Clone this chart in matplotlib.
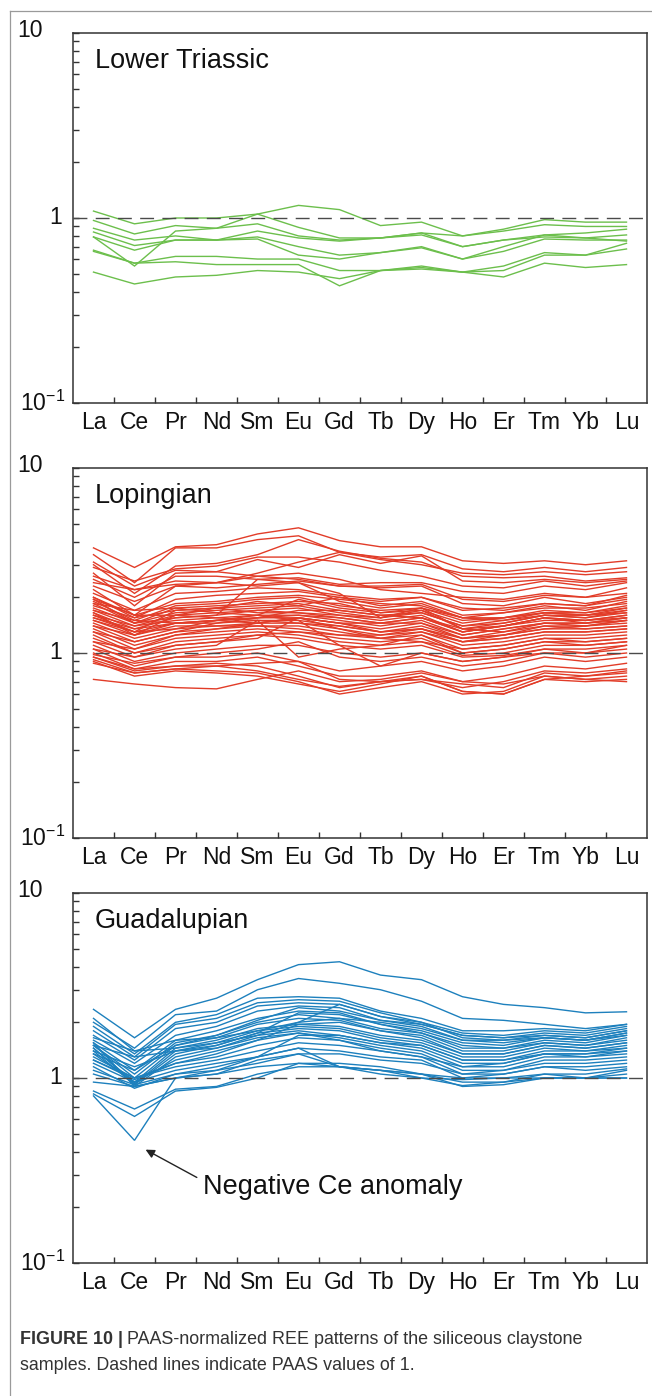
import matplotlib
matplotlib.use("Agg")
import matplotlib.pyplot as plt
from matplotlib.ticker import FixedLocator, NullFormatter
from matplotlib.lines import Line2D

plt.rcParams["font.family"] = ["Liberation Sans", "DejaVu Sans"]
plt.rcParams["mathtext.fontset"] = "custom"
plt.rcParams["mathtext.rm"] = "Liberation Sans"

elements = ["La", "Ce", "Pr", "Nd", "Sm", "Eu", "Gd", "Tb", "Dy", "Ho", "Er", "Tm", "Yb", "Lu"]

# PAAS-normalized values, one row per sample
lower_triassic = [
    [1.09, 0.93, 1.00, 1.00, 1.05, 0.89, 0.78, 0.78, 0.83, 0.80, 0.87, 0.98, 0.95, 0.95],
    [0.79, 0.55, 0.85, 0.88, 1.05, 1.17, 1.11, 0.91, 0.95, 0.80, 0.85, 0.92, 0.90, 0.90],
    [0.97, 0.82, 0.91, 0.88, 0.93, 0.80, 0.76, 0.78, 0.81, 0.70, 0.76, 0.81, 0.83, 0.87],
    [0.88, 0.76, 0.80, 0.76, 0.85, 0.78, 0.75, 0.78, 0.83, 0.70, 0.76, 0.79, 0.78, 0.81],
    [0.84, 0.71, 0.76, 0.76, 0.79, 0.70, 0.63, 0.65, 0.70, 0.60, 0.66, 0.77, 0.76, 0.76],
    [0.79, 0.67, 0.76, 0.76, 0.77, 0.63, 0.60, 0.65, 0.69, 0.60, 0.70, 0.81, 0.78, 0.75],
    [0.67, 0.57, 0.62, 0.62, 0.60, 0.60, 0.52, 0.52, 0.55, 0.51, 0.55, 0.65, 0.63, 0.68],
    [0.66, 0.57, 0.58, 0.56, 0.56, 0.56, 0.43, 0.52, 0.53, 0.51, 0.52, 0.63, 0.63, 0.73],
    [0.51, 0.44, 0.48, 0.49, 0.52, 0.51, 0.47, 0.52, 0.54, 0.51, 0.48, 0.57, 0.54, 0.56],
]

lopingian = [
    [3.70, 2.90, 3.75, 3.85, 4.40, 4.75, 4.05, 3.75, 3.75, 3.15, 3.05, 3.15, 3.00, 3.15],
    [3.40, 2.40, 3.70, 3.70, 4.10, 4.30, 3.50, 3.30, 3.40, 2.85, 2.75, 2.90, 2.75, 2.90],
    [3.00, 2.10, 2.95, 3.05, 3.40, 4.10, 3.55, 3.25, 3.10, 2.60, 2.55, 2.60, 2.45, 2.55],
    [2.90, 2.45, 2.85, 2.95, 3.30, 3.30, 3.10, 2.80, 2.60, 2.30, 2.25, 2.45, 2.30, 2.45],
    [2.70, 1.80, 2.70, 2.75, 3.20, 2.90, 3.40, 3.05, 3.35, 2.45, 2.40, 2.50, 2.40, 2.50],
    [2.50, 2.00, 2.60, 2.60, 2.50, 2.55, 2.35, 2.40, 2.40, 2.15, 2.10, 2.30, 2.20, 2.40],
    [2.40, 2.20, 2.45, 2.40, 2.60, 2.70, 2.50, 2.20, 2.10, 2.00, 1.95, 2.10, 2.00, 2.25],
    [2.20, 1.60, 2.30, 2.25, 2.35, 2.45, 2.30, 2.25, 2.30, 1.85, 1.80, 2.00, 1.85, 2.00],
    [2.10, 1.70, 2.10, 2.15, 2.25, 2.20, 2.05, 1.95, 2.00, 1.70, 1.75, 1.85, 1.80, 2.05],
    [2.00, 1.55, 1.95, 2.05, 2.10, 2.15, 2.00, 1.80, 1.90, 1.60, 1.65, 1.80, 1.70, 1.90],
    [1.95, 1.60, 1.85, 1.90, 2.00, 2.05, 1.95, 1.85, 1.80, 1.55, 1.65, 1.75, 1.75, 1.85],
    [1.90, 1.50, 1.80, 1.85, 1.95, 2.00, 1.80, 1.70, 1.75, 1.50, 1.55, 1.70, 1.65, 1.80],
    [1.85, 1.45, 1.75, 1.80, 1.85, 1.90, 1.85, 1.65, 1.70, 1.45, 1.55, 1.65, 1.60, 1.75],
    [1.80, 1.55, 1.70, 1.75, 1.80, 1.85, 1.70, 1.60, 1.65, 1.40, 1.50, 1.60, 1.55, 1.70],
    [1.75, 1.45, 1.65, 1.70, 1.75, 1.80, 1.65, 1.55, 1.70, 1.35, 1.45, 1.60, 1.60, 1.65],
    [1.70, 1.40, 1.60, 1.65, 1.70, 1.75, 1.60, 1.50, 1.60, 1.30, 1.40, 1.55, 1.50, 1.60],
    [1.65, 1.35, 1.55, 1.60, 1.70, 1.65, 1.55, 1.45, 1.55, 1.30, 1.40, 1.50, 1.50, 1.55],
    [1.60, 1.40, 1.50, 1.55, 1.60, 1.60, 1.50, 1.40, 1.50, 1.25, 1.35, 1.45, 1.45, 1.50],
    [1.60, 1.30, 1.45, 1.50, 1.55, 1.55, 1.45, 1.35, 1.45, 1.20, 1.30, 1.40, 1.40, 1.45],
    [1.55, 1.35, 1.45, 1.45, 1.50, 1.50, 1.40, 1.30, 1.40, 1.20, 1.25, 1.35, 1.35, 1.40],
    [1.50, 1.25, 1.40, 1.40, 1.45, 1.45, 1.35, 1.25, 1.35, 1.15, 1.20, 1.30, 1.30, 1.35],
    [1.45, 1.20, 1.35, 1.40, 1.40, 1.40, 1.30, 1.20, 1.30, 1.10, 1.15, 1.25, 1.25, 1.30],
    [1.40, 1.15, 1.30, 1.35, 1.40, 1.35, 1.25, 1.20, 1.25, 1.05, 1.10, 1.20, 1.20, 1.25],
    [1.35, 1.10, 1.25, 1.30, 1.35, 1.30, 1.20, 1.15, 1.20, 1.00, 1.05, 1.15, 1.15, 1.20],
    [1.30, 1.05, 1.20, 1.25, 1.30, 1.25, 1.15, 1.10, 1.15, 0.97, 1.00, 1.10, 1.10, 1.15],
    [1.25, 1.00, 1.15, 1.20, 1.25, 1.20, 1.10, 1.05, 1.10, 0.95, 0.97, 1.05, 1.05, 1.10],
    [1.20, 1.00, 1.10, 1.15, 1.20, 1.55, 1.35, 1.20, 1.15, 1.05, 1.10, 1.20, 1.15, 1.20],
    [1.15, 0.95, 1.05, 1.10, 1.50, 0.95, 1.05, 1.10, 1.25, 1.00, 1.05, 1.15, 1.10, 1.15],
    [1.10, 0.90, 1.00, 1.05, 1.10, 1.10, 1.00, 0.95, 1.00, 0.90, 0.95, 1.00, 1.00, 1.05],
    [1.05, 0.85, 0.95, 0.95, 1.00, 0.90, 0.80, 0.85, 0.90, 0.80, 0.85, 0.95, 0.90, 0.95],
    [1.00, 0.82, 0.90, 0.90, 0.95, 0.85, 0.75, 0.75, 0.80, 0.70, 0.75, 0.85, 0.82, 0.88],
    [0.95, 0.80, 0.85, 0.88, 0.85, 0.75, 0.65, 0.70, 0.72, 0.65, 0.70, 0.80, 0.78, 0.82],
    [0.92, 0.78, 0.82, 0.80, 0.78, 0.70, 0.60, 0.65, 0.70, 0.60, 0.62, 0.75, 0.72, 0.75],
    [0.90, 0.75, 0.80, 0.78, 0.75, 0.68, 0.62, 0.68, 0.75, 0.62, 0.60, 0.72, 0.70, 0.72],
    [0.72, 0.68, 0.65, 0.64, 0.72, 0.80, 0.70, 0.72, 0.78, 0.70, 0.68, 0.75, 0.72, 0.70],
    [1.85, 1.70, 1.75, 1.65, 1.60, 1.50, 1.10, 0.85, 1.00, 0.90, 0.95, 1.05, 1.00, 1.10],
    [2.60, 2.20, 2.35, 2.40, 2.30, 2.40, 2.10, 1.55, 1.75, 1.35, 1.40, 1.55, 1.45, 1.55],
    [3.10, 2.30, 2.80, 2.75, 2.60, 2.50, 2.30, 2.30, 2.35, 1.95, 1.90, 2.05, 2.00, 2.10],
    [1.95, 1.45, 1.55, 1.60, 2.50, 2.40, 1.90, 1.75, 1.85, 1.55, 1.50, 1.65, 1.60, 1.70],
    [1.50, 1.30, 1.70, 1.75, 1.65, 1.65, 1.60, 1.55, 1.65, 1.40, 1.45, 1.60, 1.55, 1.65],
    [1.70, 1.50, 1.45, 1.50, 1.60, 1.95, 1.75, 1.65, 1.75, 1.55, 1.55, 1.65, 1.65, 1.75],
    [1.30, 1.15, 1.30, 1.45, 1.55, 1.60, 1.55, 1.45, 1.45, 1.25, 1.35, 1.45, 1.45, 1.55],
    [1.15, 1.05, 1.25, 1.35, 1.45, 1.55, 1.45, 1.30, 1.35, 1.15, 1.25, 1.40, 1.35, 1.40],
    [1.05, 0.95, 1.10, 1.15, 1.25, 1.30, 1.25, 1.25, 1.30, 1.15, 1.20, 1.30, 1.30, 1.35],
    [0.98, 0.88, 0.95, 1.00, 1.05, 1.15, 0.95, 0.90, 0.95, 0.85, 0.90, 1.00, 0.95, 1.00],
    [2.30, 1.90, 2.30, 2.40, 2.70, 3.10, 3.50, 3.20, 3.00, 2.70, 2.65, 2.75, 2.65, 2.75],
    [1.65, 1.25, 1.60, 1.75, 1.90, 1.80, 2.00, 1.90, 2.00, 1.75, 1.70, 1.85, 1.80, 1.95],
    [1.55, 1.30, 1.35, 1.50, 1.45, 1.55, 1.45, 1.45, 1.55, 1.30, 1.40, 1.55, 1.50, 1.60],
    [2.00, 1.60, 1.60, 1.55, 1.50, 1.45, 1.40, 1.30, 1.35, 1.20, 1.25, 1.35, 1.40, 1.50],
    [1.40, 1.25, 1.45, 1.50, 1.55, 1.70, 1.70, 1.60, 1.55, 1.35, 1.30, 1.45, 1.40, 1.50],
    [0.88, 0.78, 0.82, 0.85, 0.88, 0.90, 0.72, 0.70, 0.75, 0.62, 0.60, 0.72, 0.75, 0.78],
    [0.95, 0.82, 0.85, 0.85, 0.80, 0.72, 0.66, 0.70, 0.72, 0.68, 0.65, 0.78, 0.75, 0.80],
]

guadalupian = [
    [2.35, 1.65, 2.35, 2.70, 3.40, 4.10, 4.25, 3.60, 3.40, 2.75, 2.50, 2.40, 2.25, 2.28],
    [2.00, 1.45, 2.20, 2.30, 3.00, 3.45, 3.25, 3.00, 2.60, 2.10, 2.05, 1.95, 1.85, 1.95],
    [1.90, 1.35, 2.00, 2.20, 2.70, 2.75, 2.70, 2.30, 2.10, 1.80, 1.80, 1.85, 1.80, 1.95],
    [1.80, 1.30, 1.95, 2.10, 2.55, 2.65, 2.60, 2.25, 2.00, 1.75, 1.70, 1.80, 1.75, 1.90],
    [1.70, 1.25, 1.85, 2.00, 2.45, 2.55, 2.50, 2.15, 1.95, 1.70, 1.65, 1.75, 1.70, 1.85],
    [1.60, 1.20, 1.70, 1.90, 2.30, 2.45, 2.40, 2.05, 1.90, 1.60, 1.60, 1.70, 1.65, 1.80],
    [1.55, 1.10, 1.60, 1.80, 2.10, 2.30, 2.25, 1.95, 1.80, 1.55, 1.50, 1.65, 1.60, 1.75],
    [1.50, 1.05, 1.55, 1.70, 2.00, 2.20, 2.10, 1.85, 1.75, 1.45, 1.45, 1.60, 1.55, 1.70],
    [1.50, 1.00, 1.50, 1.65, 1.95, 2.10, 2.05, 1.80, 1.70, 1.40, 1.40, 1.55, 1.50, 1.65],
    [1.45, 0.95, 1.45, 1.60, 1.85, 1.95, 1.90, 1.70, 1.60, 1.35, 1.35, 1.50, 1.45, 1.55],
    [1.45, 0.93, 1.40, 1.55, 1.80, 1.90, 1.85, 1.65, 1.55, 1.30, 1.30, 1.45, 1.40, 1.50],
    [1.40, 0.92, 1.35, 1.50, 1.75, 1.85, 1.80, 1.60, 1.50, 1.25, 1.25, 1.40, 1.40, 1.45],
    [1.55, 0.90, 1.30, 1.45, 1.70, 1.80, 1.70, 1.55, 1.45, 1.20, 1.20, 1.35, 1.35, 1.40],
    [1.35, 0.95, 1.25, 1.40, 1.60, 1.75, 1.65, 1.50, 1.40, 1.15, 1.15, 1.30, 1.30, 1.35],
    [1.30, 1.00, 1.20, 1.30, 1.50, 1.65, 1.60, 1.45, 1.35, 1.10, 1.10, 1.25, 1.25, 1.30],
    [1.25, 1.00, 1.15, 1.25, 1.40, 1.55, 1.50, 1.40, 1.30, 1.05, 1.10, 1.20, 1.20, 1.25],
    [1.20, 0.95, 1.10, 1.20, 1.30, 1.45, 1.40, 1.30, 1.25, 1.00, 1.05, 1.15, 1.15, 1.20],
    [1.10, 0.92, 1.05, 1.10, 1.20, 1.35, 1.15, 1.10, 1.05, 1.00, 1.00, 1.00, 1.00, 1.00],
    [1.05, 0.90, 1.00, 1.05, 1.15, 1.20, 1.15, 1.10, 1.05, 0.90, 0.92, 1.00, 1.00, 1.10],
    [0.85, 0.68, 0.87, 0.90, 1.05, 1.15, 1.15, 1.10, 1.00, 0.91, 0.95, 1.05, 1.00, 1.05],
    [0.82, 0.62, 0.85, 0.89, 1.00, 1.20, 1.20, 1.15, 1.05, 0.95, 0.95, 1.00, 1.00, 1.00],
    [0.80, 0.46, 1.00, 1.05, 1.25, 1.35, 1.35, 1.25, 1.20, 1.05, 1.05, 1.15, 1.10, 1.15],
    [1.35, 1.10, 1.50, 1.70, 2.05, 2.40, 2.30, 2.05, 1.95, 1.70, 1.65, 1.70, 1.65, 1.80],
    [1.65, 1.40, 1.60, 1.65, 1.80, 2.00, 2.10, 2.00, 1.85, 1.60, 1.55, 1.65, 1.60, 1.75],
    [2.10, 1.40, 1.45, 1.55, 1.70, 2.00, 2.50, 2.15, 2.00, 1.65, 1.60, 1.65, 1.60, 1.70],
    [1.50, 1.30, 1.40, 1.45, 1.65, 1.75, 1.60, 1.40, 1.30, 1.15, 1.20, 1.35, 1.30, 1.40],
    [1.15, 0.88, 1.05, 1.15, 1.30, 1.70, 1.70, 1.55, 1.50, 1.25, 1.25, 1.35, 1.35, 1.45],
    [1.40, 1.15, 1.40, 1.50, 1.75, 2.25, 2.20, 1.95, 1.75, 1.50, 1.45, 1.55, 1.50, 1.60],
    [1.25, 0.98, 1.20, 1.35, 1.60, 1.95, 2.00, 1.80, 1.65, 1.35, 1.35, 1.50, 1.45, 1.55],
    [0.95, 0.90, 1.00, 1.10, 1.30, 1.45, 1.15, 1.05, 1.00, 0.98, 1.00, 1.05, 1.05, 1.12],
]

panels = [
    ("Lower Triassic", lower_triassic, "#6cbf4c"),
    ("Lopingian", lopingian, "#e23c28"),
    ("Guadalupian", guadalupian, "#1d80bd"),
]

fig = plt.figure(figsize=(6.52, 13.96), dpi=100)

# page frame (top and left edges only)
fig.add_artist(Line2D([10 / 652, 10 / 652], [0, 1 - 11 / 1396], transform=fig.transFigure,
                      color="#9a9a9a", lw=0.9))
fig.add_artist(Line2D([10 / 652, 1], [1 - 11 / 1396, 1 - 11 / 1396], transform=fig.transFigure,
                      color="#9a9a9a", lw=0.9))

tick_fs = 16.5
tops = [33, 468, 893]
axes = []
for (name, data, color), top in zip(panels, tops):
    ax = fig.add_axes([73 / 652, 1 - (top + 370) / 1396, 574 / 652, 370 / 1396])
    axes.append(ax)
    x = list(range(len(elements)))
    for row in data:
        ax.plot(x, row, color=color, lw=1.0, solid_joinstyle="miter")
    ax.axhline(1, color="#4a4a4a", lw=1.0, dashes=(10, 6), zorder=3)

    ax.set_yscale("log")
    ax.set_ylim(0.1, 10)
    ax.set_xlim(-0.5, 13.5)

    ax.set_xticks(x)
    ax.set_xticklabels(elements, fontsize=tick_fs)
    ax.xaxis.set_minor_locator(FixedLocator([i + 0.5 for i in range(13)]))
    ax.tick_params(axis="x", which="major", length=0, pad=6, labelcolor="#111111")
    ax.tick_params(axis="x", which="minor", direction="in", length=4.5, width=1.0,
                   color="#333333", top=False)

    ax.yaxis.set_major_locator(FixedLocator([0.1, 1, 10]))
    ax.yaxis.set_minor_locator(FixedLocator([m * 0.1 for m in range(2, 10)] + list(range(2, 10))))
    ax.yaxis.set_major_formatter(NullFormatter())
    ax.yaxis.set_minor_formatter(NullFormatter())
    ax.tick_params(axis="y", which="both", direction="in", length=4.5, width=1.0,
                   color="#333333", right=False)

    for sp in ax.spines.values():
        sp.set_color("#333333")
        sp.set_linewidth(1.1)

    # y labels placed by hand like the original
    ax.annotate("10", xy=(0, 10), xycoords=("axes fraction", "data"),
                xytext=(-21.5, 1.5), textcoords="offset points",
                ha="right", va="center", fontsize=tick_fs, color="#111111")
    ax.annotate("1", xy=(0, 1), xycoords=("axes fraction", "data"),
                xytext=(-8, 0.5), textcoords="offset points",
                ha="right", va="center", fontsize=tick_fs, color="#111111")
    ax.annotate("10$^{-1}$", xy=(0, 0.1), xycoords=("axes fraction", "data"),
                xytext=(-5.5, 0), textcoords="offset points",
                ha="right", va="center", fontsize=tick_fs, color="#111111")

    ax.text(0.038, 0.925, name, transform=ax.transAxes, fontsize=19.5,
            ha="left", va="center", color="#111111")

axes[2].annotate("", xy=(1.27, 0.41), xytext=(2.52, 0.29),
                 arrowprops=dict(arrowstyle="-|>", color="#222222", lw=1.0,
                                 mutation_scale=13, shrinkA=0, shrinkB=0))
axes[2].text(2.66, 0.257, "Negative Ce anomaly", fontsize=19.5,
             ha="left", va="center", color="#111111")

# caption
cap_fs = 12.9
cap_y1 = 1 - 1340 / 1396
cap_y2 = 1 - 1365 / 1396
t = fig.text(20 / 652, cap_y1, "FIGURE 10 |", fontsize=cap_fs, weight="bold",
             color="#333333", va="center")
fig.canvas.draw()
bb = t.get_window_extent()
fig.text((bb.x1 + 4) / 652, cap_y1, "PAAS-normalized REE patterns of the siliceous claystone",
         fontsize=cap_fs, color="#333333", va="center")
fig.text(20 / 652, cap_y2, "samples. Dashed lines indicate PAAS values of 1.",
         fontsize=cap_fs, color="#333333", va="center")

fig.savefig("out.png", dpi=100)
